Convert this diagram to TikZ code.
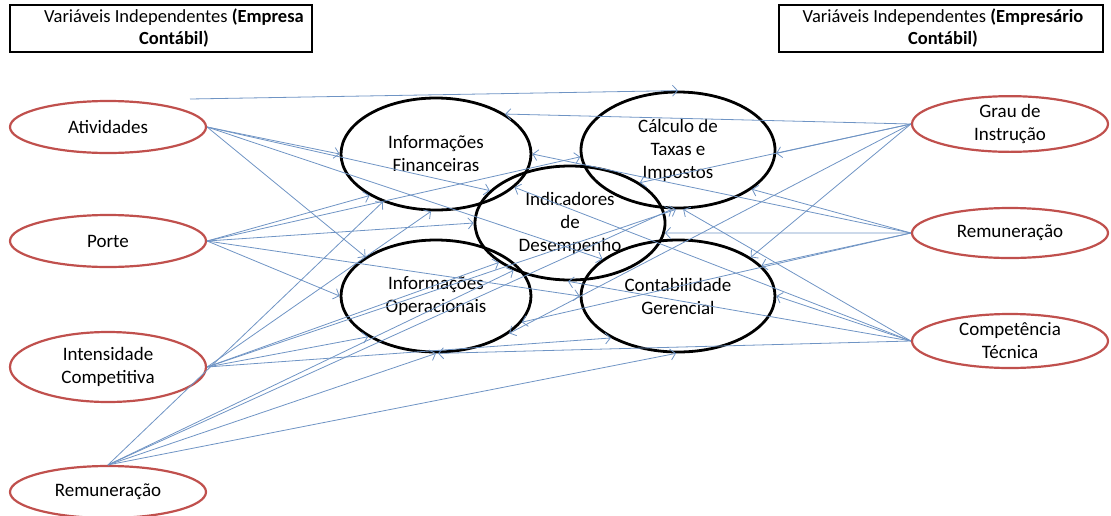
\documentclass[tikz,border=0pt]{standalone}
\usepackage{fontspec}
\setmainfont{Carlito}
\usetikzlibrary{shapes.geometric,arrows.meta}
\definecolor{redline}{HTML}{C0504D}
\definecolor{blueline}{HTML}{6F94C4}
\tikzset{
  indep/.style={draw=redline,line width=2.2pt,ellipse,inner sep=0pt,align=center,
    minimum width=196pt,font=\fontsize{19}{23}\selectfont},
  dep/.style={draw=black,line width=2.8pt,ellipse,inner sep=0pt,align=center,
    minimum width=190pt,minimum height=112pt,font=\fontsize{19}{23}\selectfont},
  titlebox/.style={draw=black,line width=2pt,inner sep=0pt,minimum height=47pt},
  titletext/.style={inner sep=0pt,align=center,font=\fontsize{18.5}{22}\selectfont},
  link/.style={draw=blueline,line width=0.8pt,-{Straight Barb[length=5pt,width=11pt]}}
}
\begin{document}
\begin{tikzpicture}[x=1pt,y=-1pt]
\useasboundingbox (0,0) rectangle (1111,515);
% title boxes
\node[titlebox,minimum width=302pt] (tl) at (161,28) {};
\node[titletext] (tltext) at (174,28) {Variáveis Independentes \textbf{(Empresa}\\\textbf{Contábil)}};
\node[titlebox,minimum width=324pt] (tr) at (941,28) {};
\node[titletext] (trtext) at (943,28) {Variáveis Independentes \textbf{(Empresário}\\\textbf{Contábil)}};
% independent variables (left)
\node[indep,minimum height=52pt] (ativ) at (108,127) {Atividades};
\node[indep,minimum height=52pt] (porte) at (108,241) {Porte};
\node[indep,minimum height=70pt] (inten) at (108,367) {Intensidade\\Competitiva};
\node[indep,minimum height=52pt] (reml) at (108,492) {Remuneração};
% independent variables (right)
\node[indep,minimum height=54pt] (grau) at (1010,124) {Grau de\\Instrução};
\node[indep,minimum height=50pt] (remr) at (1010,233) {Remuneração};
\node[indep,minimum height=54pt] (comp) at (1010,341) {Competência\\Técnica};
% dependent variables
\node[dep] (infofin) at (436,154) {Informações\\Financeiras};
\node[dep,minimum width=194pt,minimum height=116pt] (calc) at (678,150) {Cálculo de\\Taxas e\\Impostos};
\node[dep,minimum height=114pt] (indic) at (570,223) {Indicadores\\de\\Desempenho};
\node[dep] (infoop) at (436,296) {Informações\\Operacionais};
\node[dep,minimum width=194pt] (contab) at (678,296) {Contabilidade\\Gerencial};
\coordinate (ativtop) at (190,99);
% connectors: Atividades
\draw[link] (ativtop) -- (calc.north);
\draw[link] (ativ.east) -- (infofin.180);
\draw[link] (ativ.east) -- (indic.158);
\draw[link] (ativ.east) -- (infoop.151);
\draw[link] (ativ.east) -- (contab.154);
% Porte
\draw[link] (porte.east) -- (infofin.212);
\draw[link] (porte.east) -- (calc.184);
\draw[link] (porte.east) -- (indic.180);
\draw[link] (porte.east) -- (infoop.180);
\draw[link] (porte.east) -- (contab.180);
% Intensidade Competitiva
\draw[link] (inten.east) -- (infofin.265);
\draw[link] (inten.east) -- (calc.268);
\draw[link] (inten.east) -- (indic.209);
\draw[link] (inten.east) -- (infoop.211);
\draw[link] (inten.east) -- (contab.212);
% Remuneracao (left)
\draw[link] (reml.north) -- (infofin.222);
\draw[link] (reml.north) -- (calc.264);
\draw[link] (reml.north) -- (indic.220);
\draw[link] (reml.north) -- (infoop.270);
\draw[link] (reml.north) -- (contab.268);
% Grau de Instrucao
\draw[link] (grau.west) -- (infofin.30);
\draw[link] (grau.west) -- (calc.358);
\draw[link] (grau.west) -- (indic.30);
\draw[link] (grau.west) -- (infoop.333);
\draw[link] (grau.west) -- (contab.28);
% Remuneracao (right)
\draw[link] (remr.west) -- (infofin.0);
\draw[link] (remr.west) -- (calc.332);
\draw[link] (remr.west) -- (indic.354);
\draw[link] (remr.west) -- (infoop.343);
\draw[link] (remr.west) -- (contab.20);
% Competencia Tecnica
\draw[link] (comp.west) -- (infofin.337);
\draw[link] (comp.west) -- (calc.275);
\draw[link] (comp.west) -- (indic.268);
\draw[link] (comp.west) -- (infoop.272);
\draw[link] (comp.west) -- (contab.0);
\end{tikzpicture}
\end{document}
